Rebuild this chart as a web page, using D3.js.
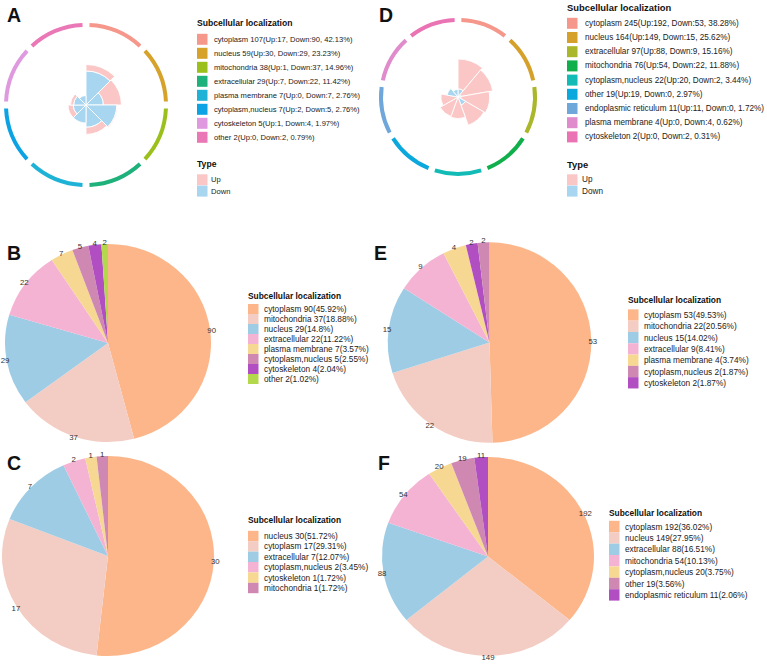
<!DOCTYPE html>
<html><head><meta charset="utf-8">
<script src="https://cdn.jsdelivr.net/npm/d3@7"></script>
<style>body{margin:0;background:#fff} text{font-family:"Liberation Sans",Arial,Helvetica,sans-serif}</style>
</head><body><svg id="c" width="767" height="664"></svg>
<script>
// ---------------- data ----------------
const roseA_categories = ["cytoplasm","nucleus","mitochondria","extracellular","plasma membrane","cytoplasm,nucleus","cytoskeleton","other"];
const roseA_up   = [17,30,1,7,0,2,1,0];
const roseA_down = [90,29,37,22,7,5,4,2];
const roseA_pct  = ["42.13","23.23","14.96","11.42","2.76","2.76","1.97","0.79"];

const roseD_categories = ["cytoplasm","nucleus","extracellular","mitochondria","cytoplasm,nucleus","other","endoplasmic reticulum","plasma membrane","cytoskeleton"];
const roseD_up   = [192,149,88,54,20,19,11,0,0];
const roseD_down = [53,15,9,22,2,0,0,4,2];
const roseD_pct  = ["38.28","25.62","15.16","11.88","3.44","2.97","1.72","0.62","0.31"];

const pieB_categories = ["cytoplasm","mitochondria","nucleus","extracellular","plasma membrane","cytoplasm,nucleus","cytoskeleton","other"];
const pieB_values = [90,37,29,22,7,5,4,2];
const pieB_pct    = ["45.92","18.88","14.8","11.22","3.57","2.55","2.04","1.02"];
const pieB_sliceOrder = [0,1,2,3,4,5,6,7];

const pieC_categories = ["nucleus","cytoplasm","extracellular","cytoplasm,nucleus","cytoskeleton","mitochondria"];
const pieC_values = [30,17,7,2,1,1];
const pieC_pct    = ["51.72","29.31","12.07","3.45","1.72","1.72"];
const pieC_sliceOrder = [0,1,2,3,4,5];

const pieE_categories = ["cytoplasm","mitochondria","nucleus","extracellular","plasma membrane","cytoplasm,nucleus","cytoskeleton"];
const pieE_values = [53,22,15,9,4,2,2];
const pieE_pct    = ["49.53","20.56","14.02","8.41","3.74","1.87","1.87"];
const pieE_sliceOrder = [0,1,2,3,4,6,5];

const pieF_categories = ["cytoplasm","nucleus","extracellular","mitochondria","cytoplasm,nucleus","other","endoplasmic reticulum"];
const pieF_values = [192,149,88,54,20,19,11];
const pieF_pct    = ["36.02","27.95","16.51","10.13","3.75","3.56","2.06"];
const pieF_sliceOrder = [0,1,2,3,4,5,6];

const typeLabels = ["Up","Down"];

// ---------------- styles ----------------
const roseA_colors = ["#F5978A","#D6A22A","#9BC01C","#1EB17B","#1EB3D6","#0BA3E3","#DF9ADF","#EA78B6"];
const roseD_colors = ["#F5978A","#D5A12B","#ABB72B","#10AF4C","#13BBB6","#0BA8DE","#6FA7DB","#E08CCC","#EA73B3"];
const UP = "#FBC6C6", DOWN = "#A8D5EF";
const piePalette = ["#FCB68A","#F3CDC3","#9ECCE4","#F5B3D4","#F6D893","#CE88B1","#B14FC2","#B4D84C"];

const svg = d3.select("#c");

function panelLetter(t, x, y){
  svg.append("text").attr("x",x).attr("y",y).text(t)
    .attr("font-size",19.5).attr("font-weight","bold").attr("fill","#111");
}

function rose(cx, cy, ringR, rMax, cats, up, down, colors){
  const g = svg.append("g").attr("transform",`translate(${cx},${cy})`);
  const n = cats.length, step = 2*Math.PI/n, gap = 2.5*Math.PI/180;
  const totals = cats.map((c,i)=>up[i]+down[i]);
  const rScale = d3.scaleLog().domain([1, d3.max(totals)+1]).range([0, rMax]);
  const arc = d3.arc();
  cats.forEach((c,i)=>{
    const R = rScale(totals[i]+1);
    const s = d3.scaleLinear().domain([0, totals[i]]).range([0, R]);
    const a0 = i*step, a1 = (i+1)*step;
    if (down[i]>0) g.append("path").attr("d", arc({innerRadius:0, outerRadius:s(down[i]), startAngle:a0, endAngle:a1}))
      .attr("fill",DOWN).attr("stroke","#fff").attr("stroke-width",0.9);
    if (up[i]>0) g.append("path").attr("d", arc({innerRadius:s(down[i]), outerRadius:s(totals[i]), startAngle:a0, endAngle:a1}))
      .attr("fill",UP).attr("stroke","#fff").attr("stroke-width",0.9);
    g.append("path").attr("d", arc({innerRadius:ringR-2, outerRadius:ringR+2, startAngle:a0+gap, endAngle:a1-gap}))
      .attr("fill",colors[i]);
  });
}

function roseLegend(x, y0, dy, textX, titleSize, fs, cats, up, down, pct, colors, typeY){
  svg.append("text").attr("x",x).attr("y",y0-16).attr("dominant-baseline","central")
    .attr("font-size",titleSize).attr("font-weight","bold").attr("fill","#111").text("Subcellular localization");
  cats.forEach((c,i)=>{
    const y = y0 + i*dy;
    svg.append("rect").attr("x",x).attr("y",y-5.5).attr("width",10.5).attr("height",11).attr("fill",colors[i]);
    svg.append("text").attr("x",textX).attr("y",y).attr("dominant-baseline","central")
      .attr("font-size",fs).attr("fill","#222")
      .text(`${c} ${up[i]+down[i]}(Up:${up[i]}, Down:${down[i]}, ${pct[i]}%)`);
  });
  svg.append("text").attr("x",x).attr("y",typeY).attr("dominant-baseline","central")
    .attr("font-size",titleSize).attr("font-weight","bold").attr("fill","#111").text("Type");
  [UP,DOWN].forEach((col,i)=>{
    const y = typeY + 15.5 + i*11.3;
    svg.append("rect").attr("x",x).attr("y",y-5.5).attr("width",10.5).attr("height",11).attr("fill",col);
    svg.append("text").attr("x",textX-3).attr("y",y).attr("dominant-baseline","central")
      .attr("font-size",fs).attr("fill","#222").text(typeLabels[i]);
  });
}

function pieChart(cx, cy, rx, ry, cats, values, order){
  const g = svg.append("g").attr("transform",`translate(${cx},${cy})`);
  const sg = g.append("g").attr("transform",`scale(${rx/ry},1)`);
  const data = order.map(i=>({i, v:values[i]}));
  const arcs = d3.pie().sort(null).value(d=>d.v)(data);
  const arc = d3.arc().innerRadius(0).outerRadius(ry);
  const L = ry + 1.5;
  const lab = d3.arc().innerRadius(L).outerRadius(L);
  sg.selectAll("path.s").data(arcs).enter().append("path")
    .attr("d",arc).attr("fill",d=>piePalette[d.data.i]);
  g.selectAll("text.l").data(arcs).enter().append("text")
    .attr("transform",d=>{const c = lab.centroid(d); return `translate(${c[0]*(rx+1.5)/L},${c[1]})`;})
    .attr("text-anchor","middle").attr("dominant-baseline","central")
    .attr("font-size",7.8).attr("fill","#333").text(d=>d.data.v);
}

function pieLegend(x, titleY, y0, dy, textX, cats, values, pct){
  svg.append("text").attr("x",x).attr("y",titleY).attr("dominant-baseline","central")
    .attr("font-size",8.4).attr("font-weight","bold").attr("fill","#111").text("Subcellular localization");
  cats.forEach((c,i)=>{
    const y = y0 + i*dy;
    svg.append("rect").attr("x",x).attr("y",y-dy/2).attr("width",10.5).attr("height",dy).attr("fill",piePalette[i]);
    svg.append("text").attr("x",textX).attr("y",y).attr("dominant-baseline","central")
      .attr("font-size",8.3).attr("fill","#222").text(`${c} ${values[i]}(${pct[i]}%)`);
  });
}

// ---------------- panels ----------------
panelLetter("A", 7, 22);
rose(86, 105, 80, 40.5, roseA_categories, roseA_up, roseA_down, roseA_colors);
roseLegend(197, 39.3, 14, 214, 8.6, 7.6, roseA_categories, roseA_up, roseA_down, roseA_pct, roseA_colors, 164.3);

panelLetter("D", 379, 22);
rose(458, 97, 77, 38, roseD_categories, roseD_up, roseD_down, roseD_colors);
roseLegend(567, 23.3, 14.2, 585, 9.4, 8.2, roseD_categories, roseD_up, roseD_down, roseD_pct, roseD_colors, 164.3);

panelLetter("B", 7, 260);
pieChart(108, 343, 103, 99, pieB_categories, pieB_values, pieB_sliceOrder);
pieLegend(248, 296, 309, 10, 264, pieB_categories, pieB_values, pieB_pct);

panelLetter("E", 374, 260);
pieChart(489.5, 342.5, 101.8, 100.2, pieE_categories, pieE_values, pieE_sliceOrder);
pieLegend(628, 300, 315, 11.3, 644, pieE_categories, pieE_values, pieE_pct);

panelLetter("C", 7, 470);
pieChart(108, 556, 106, 100, pieC_categories, pieC_values, pieC_sliceOrder);
pieLegend(248, 520, 536, 10.4, 264, pieC_categories, pieC_values, pieC_pct);

panelLetter("F", 378, 470);
pieChart(488, 556.5, 106, 99.5, pieF_categories, pieF_values, pieF_sliceOrder);
pieLegend(609, 513, 526.5, 11.4, 625, pieF_categories, pieF_values, pieF_pct);
</script></body></html>
